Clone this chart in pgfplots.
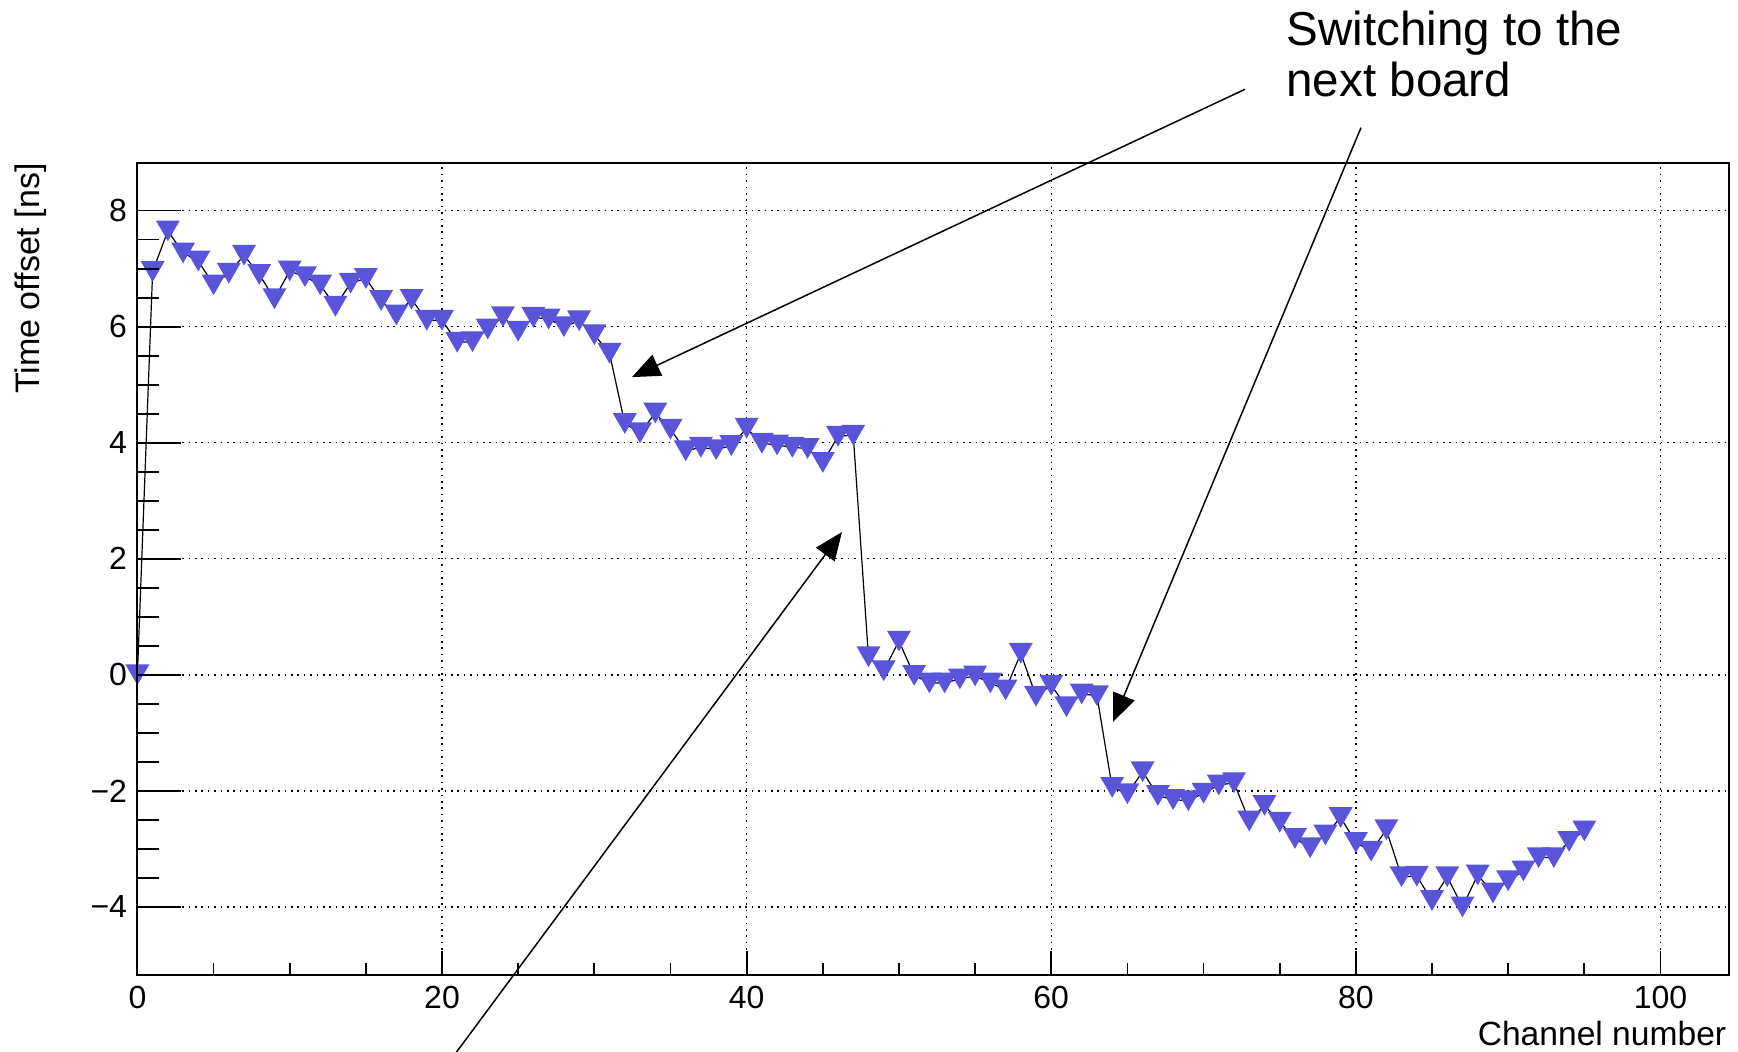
\documentclass[border=0pt]{standalone}
\usepackage{pgfplots}
\pgfplotsset{compat=1.18}
\usepackage{fontspec}
\setmainfont{Liberation Sans}
\usetikzlibrary{arrows.meta}
\definecolor{rootblue}{RGB}{89,84,217}

\pgfdeclareplotmark{tridown}{%
  \pgfpathmoveto{\pgfqpoint{-0.866\pgfplotmarksize}{0.75\pgfplotmarksize}}%
  \pgfpathlineto{\pgfqpoint{0.866\pgfplotmarksize}{0.75\pgfplotmarksize}}%
  \pgfpathlineto{\pgfqpoint{0pt}{-0.75\pgfplotmarksize}}%
  \pgfpathclose
  \pgfusepathqfill
}

\pgfplotstableread{
ch off
0 0.00
1 6.95
2 7.65
3 7.27
4 7.13
5 6.72
6 6.92
7 7.23
8 6.90
9 6.48
10 6.96
11 6.86
12 6.72
13 6.35
14 6.75
15 6.83
16 6.45
17 6.20
18 6.47
19 6.11
20 6.11
21 5.73
22 5.74
23 5.96
24 6.17
25 5.92
26 6.16
27 6.13
28 6.00
29 6.10
30 5.86
31 5.54
32 4.33
33 4.17
34 4.51
35 4.23
36 3.86
37 3.92
38 3.88
39 3.95
40 4.25
41 3.99
42 3.96
43 3.92
44 3.90
45 3.66
46 4.11
47 4.13
48 0.31
49 0.07
50 0.58
51 -0.01
52 -0.14
53 -0.14
54 -0.07
55 -0.02
56 -0.14
57 -0.26
58 0.37
59 -0.37
60 -0.18
61 -0.55
62 -0.33
63 -0.36
64 -1.94
65 -2.05
66 -1.67
67 -2.08
68 -2.15
69 -2.17
70 -2.04
71 -1.90
72 -1.86
73 -2.52
74 -2.25
75 -2.54
76 -2.82
77 -2.98
78 -2.76
79 -2.46
80 -2.89
81 -3.04
82 -2.67
83 -3.48
84 -3.47
85 -3.89
86 -3.48
87 -4.00
88 -3.45
89 -3.76
90 -3.55
91 -3.38
92 -3.15
93 -3.15
94 -2.87
95 -2.69
}\offsets

\begin{document}
\begin{tikzpicture}
\begin{axis}[
  name=ax,
  scale only axis, width=795.8pt, height=406.2pt,
  xmin=0, xmax=104.5, ymin=-5.18, ymax=8.82,
  axis line style={line width=1pt},
  tick align=inside, tick pos=left,
  xtick={0,20,...,100}, minor x tick num=3,
  ytick={-4,-2,0,2,4,6,8}, minor y tick num=3,
  yticklabels={−4,−2,0,2,4,6,8},
  major tick length=12pt, minor tick length=6pt,
  every tick/.style={black, line width=0.9pt},
  grid=major,
  major grid style={black, line width=0.7pt, dash pattern=on 0.8pt off 2.4pt},
  tick label style={font=\fontsize{16}{19}\selectfont},
  xticklabel style={inner sep=0pt, yshift=-5pt},
  yticklabel style={inner sep=0pt, xshift=-5pt},
  /pgf/number format/assume math mode=true,
  clip=false,
]
\addplot[black, line width=0.6pt, mark=tridown, mark size=6.9pt,
  mark options={fill=rootblue, draw=none}] table[x=ch, y=off] {\offsets};

\draw[line width=0.75pt, -{Triangle[length=14pt,width=11.5pt]}]
  (axis cs:72.72,10.09) -- (axis cs:32.47,5.13);
\draw[line width=0.75pt, -{Triangle[length=14pt,width=11.5pt]}]
  (axis cs:80.34,9.43) -- (axis cs:64.06,-0.81);
\draw[line width=0.75pt, -{Triangle[length=14pt,width=11.5pt]}]
  (axis cs:19.6,-6.98) -- (axis cs:46.26,2.46);
\end{axis}

\begin{axis}[
  scale only axis, width=795.8pt, height=406.2pt,
  xmin=0, xmax=104.5, ymin=-5.18, ymax=8.82,
  axis line style={line width=1pt},
  tick align=inside, tick pos=left,
  xtick=\empty,
  ytick={-4,-2,0,2,4,6,8}, minor y tick num=3,
  yticklabels={,,,,,,},
  major tick length=22pt, minor tick length=11pt,
  every tick/.style={black, line width=0.9pt},
]
\end{axis}

\node[rotate=90, anchor=base east, inner sep=0pt, font=\fontsize{17}{20}\selectfont]
  at ([xshift=-48.7pt]ax.north west) {Time offset [ns]};
\node[anchor=base east, inner sep=0pt, font=\fontsize{16.8}{19}\selectfont]
  at ([xshift=-1.2pt, yshift=-34.8pt]ax.south east) {Channel number};

\node[anchor=base west, inner sep=0pt, font=\fontsize{23.8}{25}\selectfont]
  at ([xshift=574.3pt, yshift=58.5pt]ax.north west) {Switching to the};
\node[anchor=base west, inner sep=0pt, font=\fontsize{23.8}{25}\selectfont]
  at ([xshift=574.3pt, yshift=33pt]ax.north west) {next board};

\pgfresetboundingbox
\path ([xshift=-68.7pt, yshift=-37.8pt]ax.south west) rectangle ([xshift=4.5pt, yshift=81.5pt]ax.north east);
\end{tikzpicture}
\end{document}
